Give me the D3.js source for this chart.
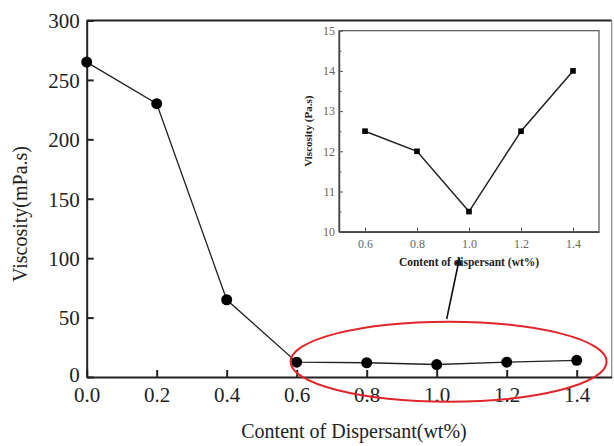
<!DOCTYPE html>
<html>
<head>
<meta charset="utf-8">
<script src="https://cdn.jsdelivr.net/npm/d3@7"></script>
<style>
  body { margin: 0; background: #fff; }
  svg { display: block; font-family: "Liberation Serif", "Times New Roman", serif; }
</style>
</head>
<body>
<div id="chart"></div>
<script>
// main curve
const content = [0.0, 0.2, 0.4, 0.6, 0.8, 1.0, 1.2, 1.4];
const viscosity = [265, 230, 65, 12.5, 12, 10.5, 12.5, 14];
const xTicks = [0.0, 0.2, 0.4, 0.6, 0.8, 1.0, 1.2, 1.4];
const yTicks = [0, 50, 100, 150, 200, 250, 300];

// inset (zoom on 0.6 - 1.4)
const insetContent = [0.6, 0.8, 1.0, 1.2, 1.4];
const insetViscosity = [12.5, 12.0, 10.5, 12.5, 14.0];
const insetXTicks = [0.6, 0.8, 1.0, 1.2, 1.4];
const insetYTicks = [10, 11, 12, 13, 14, 15];
const insetYMinor = [10.5, 11.5, 12.5, 13.5, 14.5];

const width = 614, height = 446;

const svg = d3.select("#chart").append("svg")
    .attr("width", width)
    .attr("height", height);

const x = d3.scaleLinear().domain([0, 1.5]).range([86.7, 611.7]);
const y = d3.scaleLinear().domain([0, 300]).range([377, 20.5]);

// frame (top + right)
svg.append("line")
    .attr("x1", x(0)).attr("x2", x(1.5))
    .attr("y1", y(300)).attr("y2", y(300))
    .attr("stroke", "#222").attr("stroke-width", 2);
svg.append("line")
    .attr("x1", x(1.5)).attr("x2", x(1.5))
    .attr("y1", y(300)).attr("y2", y(0))
    .attr("stroke", "#888").attr("stroke-width", 1.2);

// axes, ticks pointing inward
const xAxis = svg.append("g")
    .attr("transform", `translate(0, ${y(0)})`)
    .call(d3.axisBottom(x).tickValues(xTicks).tickSizeInner(-7).tickSizeOuter(0)
        .tickPadding(13).tickFormat(d3.format(".1f")));
const yAxis = svg.append("g")
    .attr("transform", `translate(${x(0)}, 0)`)
    .call(d3.axisLeft(y).tickValues(yTicks).tickSizeInner(-7).tickSizeOuter(0)
        .tickPadding(7));

[xAxis, yAxis].forEach(g => {
    g.select(".domain").attr("stroke", "#222").attr("stroke-width", 2);
    g.selectAll(".tick line").attr("stroke", "#222").attr("stroke-width", 2);
    g.selectAll(".tick text")
        .attr("fill", "#222")
        .style("font-family", "Liberation Serif")
        .style("font-size", "21px");
});
xAxis.selectAll(".tick text").attr("dy", "0.55em");
yAxis.selectAll(".tick text").attr("dy", d => d === 0 ? "0.2em" : "0.35em");

// axis titles
svg.append("text")
    .attr("x", 354)
    .attr("y", 438)
    .attr("text-anchor", "middle")
    .attr("fill", "#222")
    .style("font-size", "20px")
    .text("Content of Dispersant(wt%)");

svg.append("text")
    .attr("transform", "rotate(-90)")
    .attr("x", -214)
    .attr("y", 27)
    .attr("text-anchor", "middle")
    .attr("fill", "#222")
    .style("font-size", "20px")
    .text("Viscosity(mPa.s)");

// curve
const pts = content.map((c, i) => [c, viscosity[i]]);
svg.append("path")
    .datum(pts)
    .attr("fill", "none")
    .attr("stroke", "#222")
    .attr("stroke-width", 1.3)
    .attr("d", d3.line().x(d => x(d[0])).y(d => y(d[1])));

svg.selectAll(".dot")
    .data(pts)
    .enter().append("circle")
    .attr("class", "dot")
    .attr("cx", d => x(d[0]))
    .attr("cy", d => y(d[1]))
    .attr("r", 5.5)
    .attr("fill", "#000");

// red ellipse around the low region
svg.append("ellipse")
    .attr("cx", x(1.034))
    .attr("cy", y(12.9))
    .attr("rx", 158)
    .attr("ry", 40)
    .attr("fill", "none")
    .attr("stroke", "#e0262b")
    .attr("stroke-width", 2);

// arrow to inset
svg.append("defs").append("marker")
    .attr("id", "head")
    .attr("viewBox", "0 0 10 10")
    .attr("refX", 9).attr("refY", 5)
    .attr("markerWidth", 5).attr("markerHeight", 5)
    .attr("orient", "auto")
    .append("path")
    .attr("d", "M0,0 L10,5 L0,10 z")
    .attr("fill", "#111");

svg.append("line")
    .attr("x1", 446.7).attr("y1", 319)
    .attr("x2", 459.5).attr("y2", 258)
    .attr("stroke", "#111")
    .attr("stroke-width", 1.6)
    .attr("marker-end", "url(#head)");

// inset chart
const ix = d3.scaleLinear().domain([0.5, 1.5]).range([339, 599]);
const iy = d3.scaleLinear().domain([10, 15]).range([231.7, 30.7]);
const inset = svg.append("g");

inset.append("rect")
    .attr("x", ix(0.5)).attr("y", iy(15))
    .attr("width", ix(1.5) - ix(0.5))
    .attr("height", iy(10) - iy(15))
    .attr("fill", "#fff")
    .attr("stroke", "#555")
    .attr("stroke-width", 1.2);

const ixAxis = inset.append("g")
    .attr("transform", `translate(0, ${iy(10)})`)
    .call(d3.axisBottom(ix).tickValues(insetXTicks).tickSizeInner(-4).tickSizeOuter(0)
        .tickPadding(8).tickFormat(d3.format(".1f")));
const iyAxis = inset.append("g")
    .attr("transform", `translate(${ix(0.5)}, 0)`)
    .call(d3.axisLeft(iy).tickValues(insetYTicks).tickSizeInner(-4).tickSizeOuter(0)
        .tickPadding(4).tickFormat(d3.format("d")));
inset.append("g")
    .attr("transform", `translate(${ix(0.5)}, 0)`)
    .call(d3.axisLeft(iy).tickValues(insetYMinor).tickSize(-2.5).tickFormat(""))
    .call(g => g.select(".domain").remove());

[ixAxis, iyAxis].forEach(g => {
    g.select(".domain").attr("stroke", "#444").attr("stroke-width", 1.5);
    g.selectAll(".tick text")
        .attr("fill", "#666")
        .style("font-family", "Liberation Serif")
        .style("font-size", "12px");
});
inset.selectAll(".tick line").attr("stroke", "#555").attr("stroke-width", 1);

inset.append("text")
    .attr("x", 469)
    .attr("y", 266)
    .attr("text-anchor", "middle")
    .attr("fill", "#222")
    .style("font-size", "11.5px")
    .style("font-weight", "bold")
    .text("Content of dispersant (wt%)");

inset.append("text")
    .attr("transform", "rotate(-90)")
    .attr("x", -(iy(12.5)))
    .attr("y", 312)
    .attr("text-anchor", "middle")
    .attr("fill", "#222")
    .style("font-size", "11px")
    .style("font-weight", "bold")
    .text("Viscosity (Pa.s)");

const ipts = insetContent.map((c, i) => [c, insetViscosity[i]]);
inset.append("path")
    .datum(ipts)
    .attr("fill", "none")
    .attr("stroke", "#222")
    .attr("stroke-width", 1.5)
    .attr("d", d3.line().x(d => ix(d[0])).y(d => iy(d[1])));

inset.selectAll(".sq")
    .data(ipts)
    .enter().append("rect")
    .attr("class", "sq")
    .attr("x", d => ix(d[0]) - 2.8)
    .attr("y", d => iy(d[1]) - 2.8)
    .attr("width", 5.6)
    .attr("height", 5.6)
    .attr("fill", "#000");
</script>
</body>
</html>
